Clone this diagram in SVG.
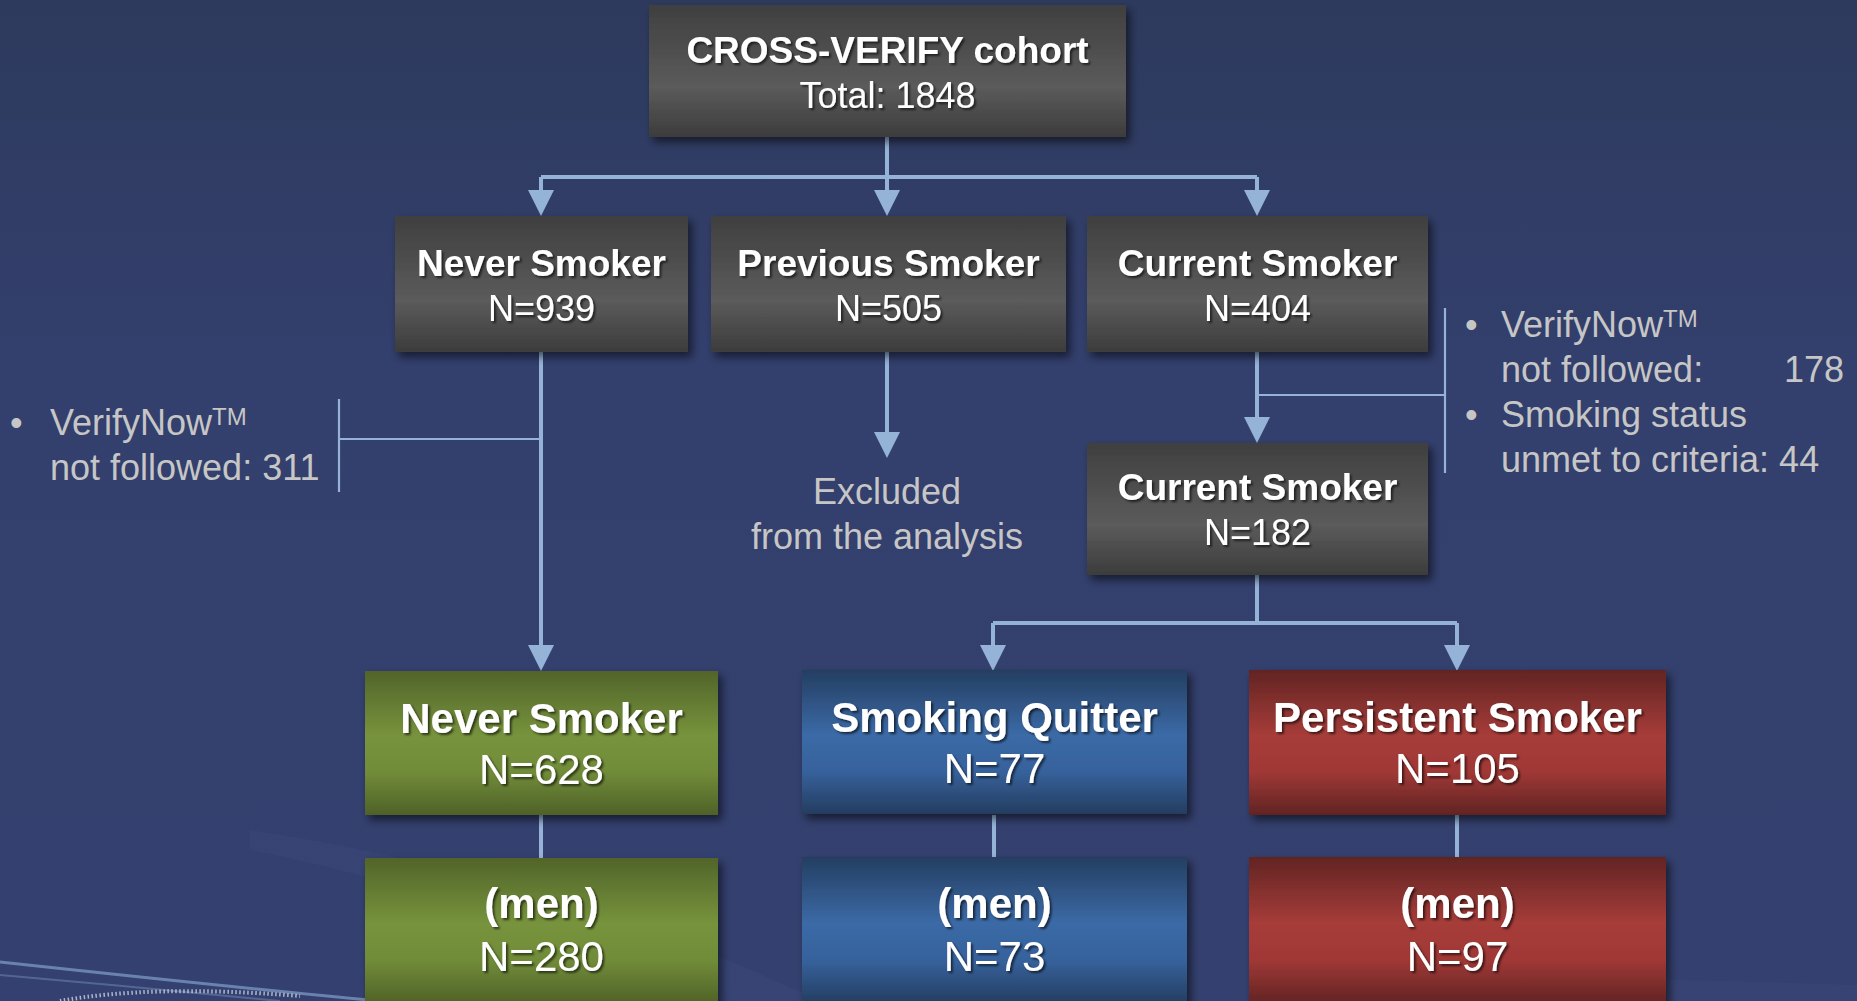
<svg xmlns="http://www.w3.org/2000/svg" width="1857" height="1001" viewBox="0 0 1857 1001">
<defs>
<style>
.bold{font-family:"Liberation Sans",Arial,sans-serif;font-weight:bold;fill:#ffffff;text-anchor:middle}
.reg{font-family:"Liberation Sans",Arial,sans-serif;fill:#ffffff;text-anchor:middle}
.note{font-family:"Liberation Sans",Arial,sans-serif;font-size:36px;fill:#c6c6c6}
.conn{fill:none;stroke:#95b3d7;stroke-width:4}
.thin{fill:none;stroke:#95b3d7;stroke-width:2.2}
.box{filter:url(#bshadow)}
.ts{filter:url(#tshadow)}
</style>
<linearGradient id="bg" x1="0" y1="0" x2="0" y2="1">
<stop offset="0" stop-color="#2d3a5d"/>
<stop offset="0.35" stop-color="#333f6c"/>
<stop offset="1" stop-color="#34406f"/>
</linearGradient>
<linearGradient id="gGray" x1="0" y1="0" x2="0" y2="1">
<stop offset="0" stop-color="#3f3f3f"/>
<stop offset="0.62" stop-color="#5b5b5b"/>
<stop offset="1" stop-color="#3c3c3c"/>
</linearGradient>
<linearGradient id="gGreen" x1="0" y1="0" x2="0" y2="1">
<stop offset="0" stop-color="#51642a"/>
<stop offset="0.45" stop-color="#77933c"/>
<stop offset="0.7" stop-color="#718c39"/>
<stop offset="1" stop-color="#4f6128"/>
</linearGradient>
<linearGradient id="gBlue" x1="0" y1="0" x2="0" y2="1">
<stop offset="0" stop-color="#243e61"/>
<stop offset="0.45" stop-color="#3b6aa6"/>
<stop offset="0.7" stop-color="#36629c"/>
<stop offset="1" stop-color="#243d60"/>
</linearGradient>
<linearGradient id="gRed" x1="0" y1="0" x2="0" y2="1">
<stop offset="0" stop-color="#622423"/>
<stop offset="0.45" stop-color="#a63c39"/>
<stop offset="0.7" stop-color="#a03836"/>
<stop offset="1" stop-color="#612423"/>
</linearGradient>
<filter id="bshadow" x="-10%" y="-10%" width="125%" height="130%">
<feDropShadow dx="4" dy="5" stdDeviation="4" flood-color="#000000" flood-opacity="0.55"/>
</filter>
<filter id="tshadow" x="-10%" y="-20%" width="125%" height="150%">
<feDropShadow dx="2" dy="2" stdDeviation="1" flood-color="#000000" flood-opacity="0.6"/>
</filter>
<marker id="arrow" viewBox="0 0 26 26" refX="6" refY="13" markerWidth="26" markerHeight="26" markerUnits="userSpaceOnUse" orient="auto">
<path d="M0,0 L26,13 L0,26 Z" fill="#95b3d7"/>
</marker>
</defs>

<rect x="0" y="0" width="1857" height="1001" fill="url(#bg)"/>
<g id="decor">
<path d="M250,830 C450,860 650,920 820,1001 L720,1001 C560,930 400,880 250,850 Z" fill="#4a5a8c" opacity="0.18"/>
<path d="M0,962 C120,975 260,990 380,1001" fill="none" stroke="#8fb0d8" stroke-width="3" opacity="0.6"/>
<path d="M0,975 C90,983 200,993 280,1001" fill="none" stroke="#8fb0d8" stroke-width="2" opacity="0.35"/>
<path d="M60,1001 C120,990 200,988 300,996" fill="none" stroke="#dfe8f5" stroke-width="4" stroke-dasharray="1.5 2.5" opacity="0.7"/>
<path d="M1280,985 C1450,975 1650,978 1857,985 L1857,1001 L1280,1001 Z" fill="#3e4b7c" opacity="0.3"/>
</g>

<g id="connectors">
<path class="conn" d="M887,137 V177"/>
<path class="conn" d="M541,177 H1257"/>
<path class="conn" d="M541,177 V196" marker-end="url(#arrow)"/>
<path class="conn" d="M887,177 V196" marker-end="url(#arrow)"/>
<path class="conn" d="M1257,177 V196" marker-end="url(#arrow)"/>
<path class="conn" d="M887,352 V438" marker-end="url(#arrow)"/>
<path class="conn" d="M1257,352 V423" marker-end="url(#arrow)"/>
<path class="thin" d="M1257,395 H1445"/>
<path class="thin" d="M1445,308 V473"/>
<path class="conn" d="M541,352 V651" marker-end="url(#arrow)"/>
<path class="thin" d="M339,439 H541"/>
<path class="thin" d="M339,399 V492"/>
<path class="conn" d="M1257,575 V623"/>
<path class="conn" d="M993,623 H1457"/>
<path class="conn" d="M993,623 V651" marker-end="url(#arrow)"/>
<path class="conn" d="M1457,623 V651" marker-end="url(#arrow)"/>
<path class="conn" d="M541,815 V858"/>
<path class="conn" d="M994,815 V858"/>
<path class="conn" d="M1457,815 V858"/>
</g>

<g id="cohort">
<rect class="box" x="649" y="5" width="477" height="132" fill="url(#gGray)"/>
<g class="ts">
<text class="bold" x="887.5" y="63" font-size="37">CROSS-VERIFY cohort</text>
<text class="reg" x="887.5" y="108" font-size="36">Total: 1848</text>
</g>
</g>

<g id="never-smoker-939">
<rect class="box" x="395" y="216" width="293" height="136" fill="url(#gGray)"/>
<g class="ts">
<text class="bold" x="541.5" y="276" font-size="37">Never Smoker</text>
<text class="reg" x="541.5" y="321" font-size="36">N=939</text>
</g>
</g>

<g id="previous-smoker-505">
<rect class="box" x="711" y="216" width="355" height="136" fill="url(#gGray)"/>
<g class="ts">
<text class="bold" x="888.5" y="276" font-size="37">Previous Smoker</text>
<text class="reg" x="888.5" y="321" font-size="36">N=505</text>
</g>
</g>

<g id="current-smoker-404">
<rect class="box" x="1087" y="216" width="341" height="136" fill="url(#gGray)"/>
<g class="ts">
<text class="bold" x="1257.5" y="276" font-size="37">Current Smoker</text>
<text class="reg" x="1257.5" y="321" font-size="36">N=404</text>
</g>
</g>

<g id="current-smoker-182">
<rect class="box" x="1087" y="443" width="341" height="132" fill="url(#gGray)"/>
<g class="ts">
<text class="bold" x="1257.5" y="500" font-size="37">Current Smoker</text>
<text class="reg" x="1257.5" y="545" font-size="36">N=182</text>
</g>
</g>

<g id="never-smoker-628">
<rect class="box" x="365" y="671" width="353" height="144" fill="url(#gGreen)"/>
<g class="ts">
<text class="bold" x="541.5" y="733" font-size="42">Never Smoker</text>
<text class="reg" x="541.5" y="784" font-size="42">N=628</text>
</g>
</g>

<g id="smoking-quitter-77">
<rect class="box" x="802" y="670" width="385" height="144" fill="url(#gBlue)"/>
<g class="ts">
<text class="bold" x="994.5" y="732" font-size="42">Smoking Quitter</text>
<text class="reg" x="994.5" y="783" font-size="42">N=77</text>
</g>
</g>

<g id="persistent-smoker-105">
<rect class="box" x="1249" y="670" width="417" height="145" fill="url(#gRed)"/>
<g class="ts">
<text class="bold" x="1457.5" y="732" font-size="42">Persistent Smoker</text>
<text class="reg" x="1457.5" y="783" font-size="42">N=105</text>
</g>
</g>

<g id="never-men-280">
<rect class="box" x="365" y="858" width="353" height="146" fill="url(#gGreen)"/>
<g class="ts">
<text class="bold" x="541.5" y="918" font-size="42">(men)</text>
<text class="reg" x="541.5" y="971" font-size="42">N=280</text>
</g>
</g>

<g id="quitter-men-73">
<rect class="box" x="802" y="857" width="385" height="147" fill="url(#gBlue)"/>
<g class="ts">
<text class="bold" x="994.5" y="918" font-size="42">(men)</text>
<text class="reg" x="994.5" y="971" font-size="42">N=73</text>
</g>
</g>

<g id="persistent-men-97">
<rect class="box" x="1249" y="857" width="417" height="147" fill="url(#gRed)"/>
<g class="ts">
<text class="bold" x="1457.5" y="918" font-size="42">(men)</text>
<text class="reg" x="1457.5" y="971" font-size="42">N=97</text>
</g>
</g>

<g id="note-left">
<text class="note" x="10" y="435">•</text>
<text class="note" x="50" y="435">VerifyNow<tspan font-size="24" dy="-10">TM</tspan></text>
<text class="note" x="50" y="480">not followed: 311</text>
</g>

<g id="note-right">
<text class="note" x="1465" y="337">•</text>
<text class="note" x="1501" y="337">VerifyNow<tspan font-size="24" dy="-10">TM</tspan></text>
<text class="note" x="1501" y="382">not followed:</text>
<text class="note" x="1784" y="382">178</text>
<text class="note" x="1465" y="427">•</text>
<text class="note" x="1501" y="427">Smoking status</text>
<text class="note" x="1501" y="472">unmet to criteria: 44</text>
</g>

<g id="excluded">
<text class="note" x="887" y="504" text-anchor="middle">Excluded</text>
<text class="note" x="887" y="549" text-anchor="middle">from the analysis</text>
</g>
</svg>
